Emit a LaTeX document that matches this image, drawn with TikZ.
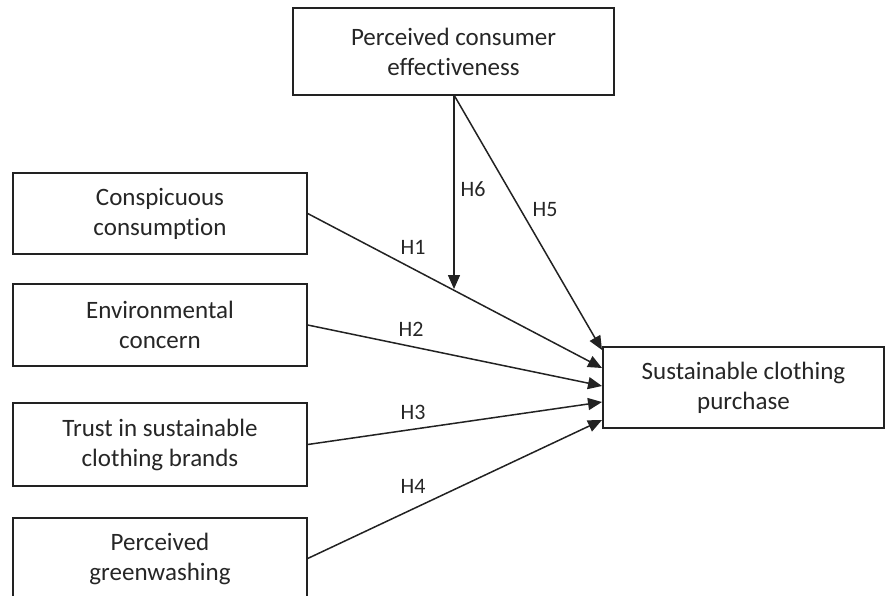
\documentclass[tikz,border=0pt]{standalone}
\usepackage{fontspec}
\setmainfont{Carlito}[Ligatures={NoCommon}]
\usetikzlibrary{arrows.meta}
\definecolor{txt}{HTML}{262626}
\definecolor{ln}{HTML}{222222}
\begin{document}
\begin{tikzpicture}[x=1pt,y=-1pt,
  box/.style={draw=ln,line width=1.4pt,fill=white,inner sep=0pt,align=center,
    text=txt,font=\fontsize{25}{30}\selectfont},
  hlab/.style={text=txt,font=\fontsize{22}{26}\selectfont,inner sep=0pt},
  arr/.style={draw=ln,line width=1.5pt,-{Triangle[length=14pt,width=12pt]}}]
\useasboundingbox (0,0) rectangle (886,595);
\clip (0,0) rectangle (886,595);
\node[box,minimum width=321pt,minimum height=87pt] (pce) at (453.5,51.5) {Perceived consumer\\effectiveness};
\node[box,minimum width=294pt,minimum height=81pt] (cc) at (160,213.5) {Conspicuous\\consumption};
\node[box,minimum width=294pt,minimum height=82pt] (ec) at (160,325) {Environmental\\concern};
\node[box,minimum width=294pt,minimum height=83pt] (tr) at (160,444.5) {Trust in sustainable\\clothing brands};
\node[box,minimum width=294pt,minimum height=81pt] (pg) at (160,558.5) {Perceived\\greenwashing};
\node[box,minimum width=281pt,minimum height=81pt] (sc) at (743.5,387.5) {Sustainable clothing\\purchase};
\coordinate (t5) at (602,350);
\coordinate (t1) at (602,368);
\coordinate (t2) at (602,386);
\coordinate (t3) at (602,402);
\coordinate (t4) at (602,420);
\coordinate (m6) at (454,289);
\coordinate (s6) at (454,95);
\draw[arr] (cc.east) -- (t1);
\draw[arr] (ec.east) -- (t2);
\draw[arr] (tr.east) -- (t3);
\draw[arr] (pg.east) -- (t4);
\draw[arr] (s6) -- (t5);
\draw[arr] (s6) -- (m6);
\node[hlab] (h1) at (413,247) {H1};
\node[hlab] (h2) at (411,329) {H2};
\node[hlab] (h3) at (413,412) {H3};
\node[hlab] (h4) at (413,486) {H4};
\node[hlab] (h5) at (545,210) {H5};
\node[hlab] (h6) at (473,189) {H6};
\end{tikzpicture}
\end{document}
